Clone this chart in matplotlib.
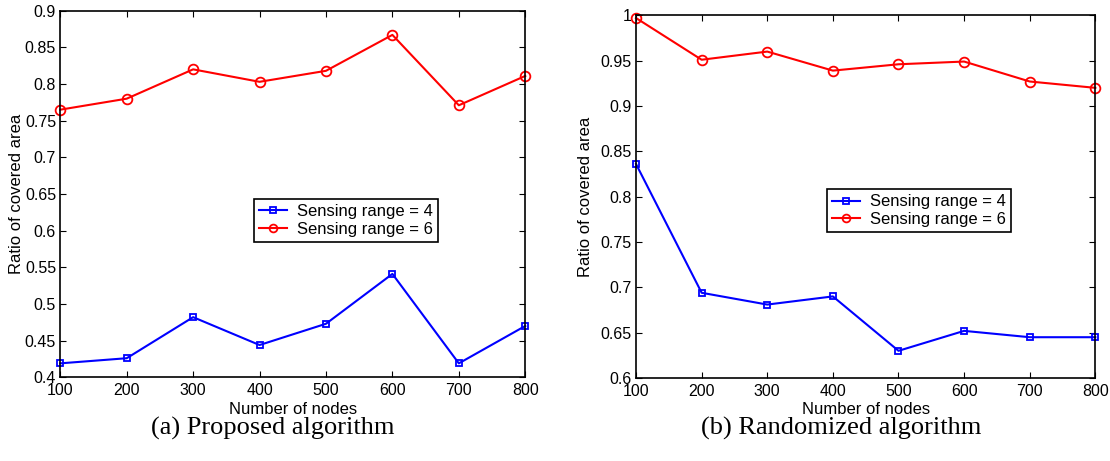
import matplotlib.pyplot as plt

plt.rcParams['font.family'] = ['Liberation Sans', 'DejaVu Sans']

nodes = [100, 200, 300, 400, 500, 600, 700, 800]

# (a) proposed algorithm
prop_r4 = [0.419, 0.426, 0.482, 0.444, 0.473, 0.541, 0.419, 0.470]
prop_r6 = [0.765, 0.780, 0.820, 0.803, 0.818, 0.867, 0.771, 0.811]

# (b) randomized algorithm
rand_r4 = [0.836, 0.694, 0.681, 0.690, 0.630, 0.652, 0.645, 0.645]
rand_r6 = [0.997, 0.951, 0.960, 0.939, 0.946, 0.949, 0.927, 0.920]

labels = ['Sensing range = 4', 'Sensing range = 6']
captions = ['(a) Proposed algorithm', '(b) Randomized algorithm']

fig = plt.figure(figsize=(11.1, 4.61), dpi=100)
ax1 = fig.add_axes([0.0543, 0.1816, 0.4189, 0.7952])
ax2 = fig.add_axes([0.5730, 0.1800, 0.4138, 0.7868])


def draw(ax, r4, r6, ylim, yticks, ytl, leg_anchor, ylab_x):
    ax.plot(nodes, r4, color='blue', lw=1.5, marker='s', ms=5,
            mfc='none', mec='blue', mew=1.3, label=labels[0], clip_on=False)
    ax.plot(nodes, r6, color='red', lw=1.5, marker='o', ms=7,
            mfc='none', mec='red', mew=1.3, label=labels[1], clip_on=False)
    ax.set_xlim(100, 800)
    ax.set_ylim(*ylim)
    ax.set_xticks(nodes)
    ax.set_yticks(yticks)
    ax.set_yticklabels(ytl)
    ax.tick_params(direction='in', top=True, right=True, labelsize=11.5,
                   length=4, width=0.8)
    ax.tick_params(axis='x', pad=4)
    ax.tick_params(axis='y', pad=3)
    for s in ax.spines.values():
        s.set_linewidth(1.2)
    ax.set_xlabel('Number of nodes', fontsize=12, va='center')
    ax.xaxis.set_label_coords(0.5, -0.087)
    ax.set_ylabel('Ratio of covered area', fontsize=12, va='center')
    ax.yaxis.set_label_coords(ylab_x, 0.5)
    leg = ax.legend(loc='upper left', bbox_to_anchor=leg_anchor, fontsize=12,
                    fancybox=False, edgecolor='black', framealpha=1,
                    borderpad=0.3, labelspacing=0.15, handlelength=1.7,
                    handletextpad=0.6, borderaxespad=0, markerscale=0.8)
    leg.get_frame().set_linewidth(1.2)


draw(ax1, prop_r4, prop_r6, (0.4, 0.9),
     [0.4, 0.45, 0.5, 0.55, 0.6, 0.65, 0.7, 0.75, 0.8, 0.85, 0.9],
     ['0.4', '0.45', '0.5', '0.55', '0.6', '0.65', '0.7', '0.75', '0.8', '0.85', '0.9'],
     (0.4166, 0.486), -0.095)
draw(ax2, rand_r4, rand_r6, (0.6, 1.0),
     [0.6, 0.65, 0.7, 0.75, 0.8, 0.85, 0.9, 0.95, 1.0],
     ['0.6', '0.65', '0.7', '0.75', '0.8', '0.85', '0.9', '0.95', '1'],
     (0.415, 0.52), -0.111)

fig.text(0.246, 0.07, captions[0], ha='center', va='center',
         fontsize=19, family=['Liberation Serif', 'DejaVu Serif'])
fig.text(0.758, 0.07, captions[1], ha='center', va='center',
         fontsize=19, family=['Liberation Serif', 'DejaVu Serif'])

fig.savefig('out.png', dpi=100)
